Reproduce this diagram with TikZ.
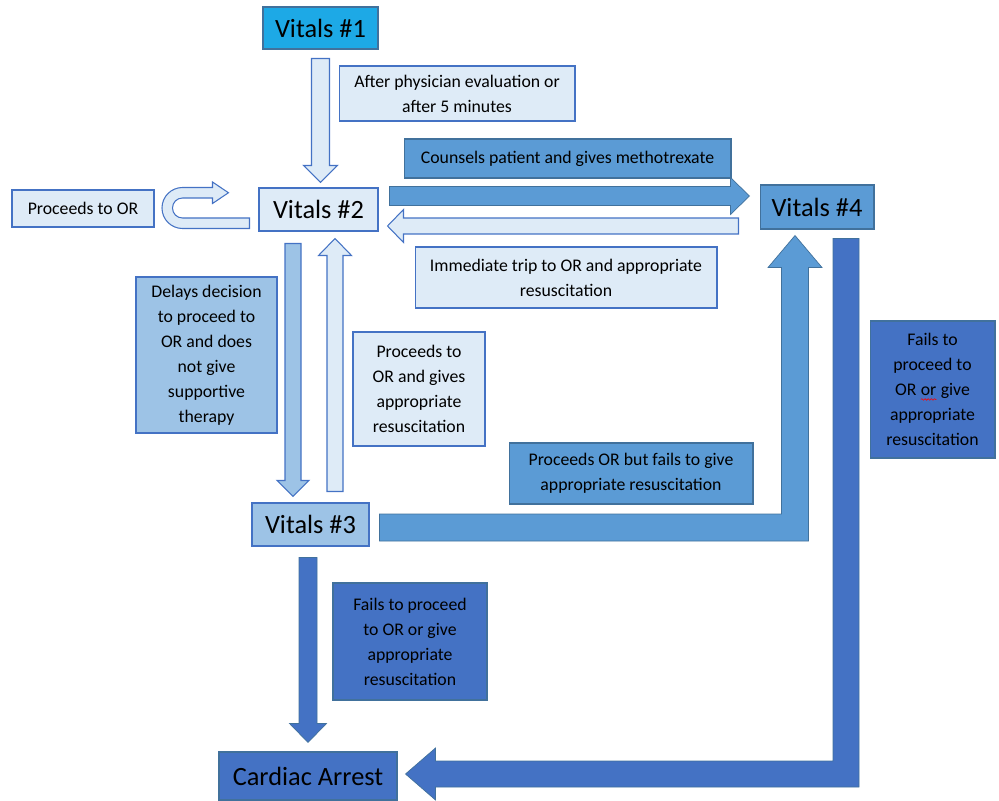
\documentclass[tikz,border=0pt]{standalone}
\usepackage{fontspec}
\setmainfont{Carlito}
\usepackage{tikz}
\usetikzlibrary{positioning,arrows.meta,calc,decorations.pathmorphing}

\definecolor{lightb}{HTML}{DEEBF7}
\definecolor{midlb}{HTML}{9DC3E6}
\definecolor{medb}{HTML}{5B9BD5}
\definecolor{darkb}{HTML}{4472C4}
\definecolor{cyanb}{HTML}{1DA9E6}
\definecolor{edgeb}{HTML}{4472C4}
\definecolor{edged}{HTML}{41719C}

\newcommand{\smalltxt}{\fontsize{10.1}{14.2}\selectfont}
\newcommand{\bigtxt}{\fontsize{15}{18}\selectfont}
\newcommand{\spellor}[1]{\tikz[baseline=(w.base)]{\node[inner sep=0pt, outer sep=0pt, draw=none, fill=none, minimum size=0pt] (w) {#1};
  \draw[red, line width=0.35pt, decorate, decoration={snake, amplitude=0.45pt, segment length=1.8pt}]
    ([yshift=-2.2pt]w.base west) -- ([yshift=-2.2pt]w.base east);}}
% straight block arrow: style, start, tip, shaft half width, head half width, head length
\newcommand{\blockarrow}[6]{%
  \coordinate (hb) at ($(#3)!#6!(#2)$);
  \draw[#1] ($(#2)!#4!90:(#3)$) -- ($(hb)!#4!-90:(#2)$) -- ($(hb)!#5!-90:(#2)$) -- (#3)
    -- ($(hb)!#5!90:(#2)$) -- ($(hb)!#4!90:(#2)$) -- ($(#2)!#4!-90:(#3)$) -- cycle;
}

\tikzset{
  box/.style={draw=edgeb, line width=0.6pt, inner sep=0pt, align=center, font=\smalltxt},
  lightbox/.style={box, fill=lightb},
  midbox/.style={box, fill=midlb},
  medbox/.style={box, fill=medb, draw=edged},
  darkbox/.style={box, fill=darkb, draw=edged},
  lightarr/.style={fill=lightb, draw=edgeb, line width=0.6pt, line join=miter},
  midarr/.style={fill=midlb, draw=edgeb, line width=0.6pt},
  medarr/.style={fill=medb, draw=edged, line width=0.4pt},
  darkarr/.style={fill=darkb, draw=edged, line width=0.4pt},
}

\begin{document}
\begin{tikzpicture}[x=0.02cm, y=-0.02cm]
  \useasboundingbox (0,0) rectangle (999,800);
  \clip (0,0) rectangle (999,800);

  % states
  \node[box, fill=cyanb, draw=edged, font=\bigtxt, minimum width=2.30cm, minimum height=0.84cm] (vit1) at (320.5,28) {Vitals \#1};
  \node[lightbox, font=\bigtxt, minimum width=2.38cm, minimum height=0.86cm] (vit2) at (318.5,209.5) {Vitals \#2};
  \node[midbox, font=\bigtxt, minimum width=2.34cm, minimum height=0.86cm] (vit3) at (310.5,524.5) {Vitals \#3};
  \node[medbox, font=\bigtxt, minimum width=2.28cm, minimum height=0.88cm] (vit4) at (817,207) {Vitals \#4};
  \node[darkbox, font=\bigtxt, minimum width=3.56cm, minimum height=0.96cm] (arrest) at (308,776) {Cardiac Arrest};

  % labels
  \node[lightbox, minimum width=4.72cm, minimum height=1.10cm] (phys) at (457,93.5)
    {After physician evaluation or\\after 5 minutes};
  \node[lightbox, minimum width=2.84cm, minimum height=0.74cm] (toor) at (83,208.5) {Proceeds to OR};
  \node[medbox, minimum width=6.54cm, minimum height=0.78cm] (couns) at (567.5,158.5)
    {Counsels patient and gives methotrexate};
  \node[lightbox, minimum width=6.04cm, minimum height=1.22cm] (immed) at (566,277.5)
    {Immediate trip to OR and appropriate\\resuscitation};
  \node[midbox, minimum width=2.82cm, minimum height=3.12cm] (delay) at (206.5,355)
    {Delays decision\\to proceed to\\OR and does\\not give\\supportive\\therapy};
  \node[lightbox, minimum width=2.64cm, minimum height=2.28cm] (gives) at (419,389)
    {Proceeds to\\OR and gives\\appropriate\\resuscitation};
  \node[medbox, minimum width=4.88cm, minimum height=1.22cm] (butfails) at (631,473.5)
    {Proceeds OR but fails to give\\appropriate resuscitation};
  \node[darkbox, minimum width=2.50cm, minimum height=2.74cm] (failsr) at (932.5,389.5)
    {Fails to\\proceed to\\OR \spellor{or} give\\appropriate\\resuscitation};
  \node[darkbox, minimum width=3.08cm, minimum height=2.34cm] (failsd) at (410,641.5)
    {Fails to proceed\\to OR or give\\appropriate\\resuscitation};

  % straight block arrows
  \coordinate (a1) at ($(vit1.south)+(0,9)$);
  \coordinate (a2) at ($(vit1.south |- vit2.north)+(0,-5)$);
  \blockarrow{lightarr}{a1}{a2}{0.18cm}{0.34cm}{0.34cm}

  \coordinate (r1) at ($(vit2.east)+(11,-13.5)$);
  \coordinate (r2) at ($(r1 -| vit4.west)+(-10,0)$);
  \blockarrow{medarr}{r1}{r2}{0.19cm}{0.37cm}{0.38cm}

  \coordinate (l1) at ($(vit4.west)+(-21,19)$);
  \coordinate (l2) at ($(l1 -| vit2.east)+(9,0)$);
  \blockarrow{lightarr}{l1}{l2}{0.16cm}{0.33cm}{0.32cm}

  \coordinate (d1) at ($(vit2.south)+(-25.5,12)$);
  \coordinate (d2) at ($(d1 |- vit3.north)+(0,-6)$);
  \blockarrow{midarr}{d1}{d2}{0.16cm}{0.32cm}{0.32cm}

  \coordinate (u1) at ($(vit3.north)+(24.5,-11)$);
  \coordinate (u2) at ($(u1 |- vit2.south)+(0,7)$);
  \blockarrow{lightarr}{u1}{u2}{0.16cm}{0.33cm}{0.34cm}

  \coordinate (c1) at ($(vit3.south)+(-2.5,11)$);
  \coordinate (c2) at ($(c1 |- arrest.north)+(0,-9)$);
  \blockarrow{darkarr}{c1}{c2}{0.18cm}{0.37cm}{0.38cm}

  % bent arrows
  \coordinate (m1) at ($(vit3.east)+(10,3)$);
  \coordinate (m2) at ($(vit4.south)+(-22,6)$);
  \draw[medarr] ($(m1)+(0,-13.5)$) -- ($(m1 -| m2)+(-13.5,-13.5)$) -- ($(m2)+(-13.5,32)$)
    -- ($(m2)+(-27,32)$) -- (m2) -- ($(m2)+(27,32)$) -- ($(m2)+(13.5,32)$)
    -- ($(m1 -| m2)+(13.5,13.5)$) -- ($(m1)+(0,13.5)$) -- cycle;

  \coordinate (n1) at ($(vit4.south)+(29,9)$);
  \coordinate (n2) at ($(arrest.east)+(8,-2)$);
  \draw[darkarr] ($(n1)+(-13,0)$) -- ($(n1)+(13,0)$) -- ($(n1 |- n2)+(13,13)$)
    -- ($(n2)+(30,13)$) -- ($(n2)+(30,26)$) -- (n2) -- ($(n2)+(30,-26)$)
    -- ($(n2)+(30,-13)$) -- ($(n1 |- n2)+(-13,-13)$) -- cycle;

  % u-turn
  \coordinate (t1) at ($(vit2.west)+(-9,19)$);
  \draw[lightarr] (t1) -- ++(-67,0) arc[start angle=90, end angle=270, radius=20.5]
    -- ++(30,0) -- ++(0,-5.5) -- ++(16,10.75) -- ++(-16,10.75) -- ++(0,-5.5) -- ++(-30,0)
    arc[start angle=270, end angle=90, radius=10] -- ++(67,0) -- cycle;
\end{tikzpicture}
\end{document}
